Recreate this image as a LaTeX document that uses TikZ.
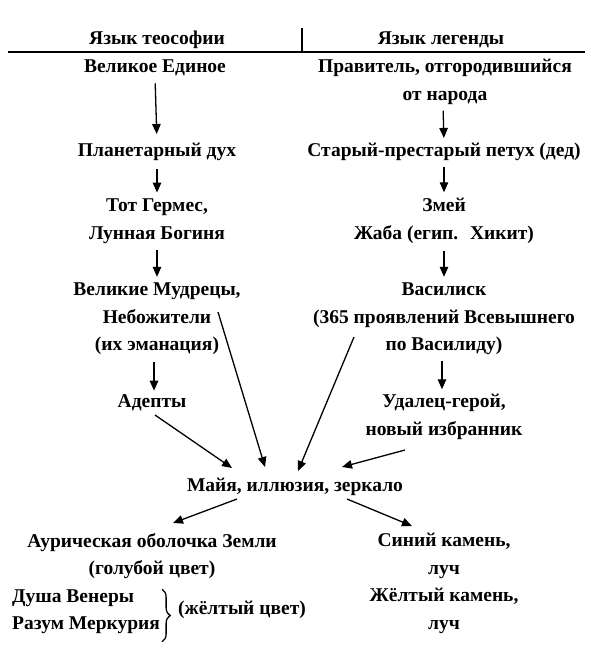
\documentclass[tikz,border=0pt]{standalone}
\usepackage{fontspec}
\setmainfont{Liberation Serif}
\usetikzlibrary{arrows.meta,decorations.pathreplacing}
\tikzset{
  txt/.style={inner sep=0pt, align=center, font=\fontsize{19.5}{27.5}\selectfont\bfseries},
  arr/.style={-{Triangle[length=10pt,width=8.5pt]}, line width=1.3pt},
}
\begin{document}
\begin{tikzpicture}[x=1pt,y=-1pt]
\useasboundingbox (0,0) rectangle (590,653);
% header
\node[txt] (h1) at (157,40) {Язык теософии};
\node[txt] (h2) at (441,40) {Язык легенды};
\draw[line width=2pt] (8,52) -- (585,52);
\draw[line width=1.2pt] (302,28) -- (302,52);
% left column
\node[txt] (L1) at (155,68) {Великое Единое};
\node[txt] (L2) at (157,152) {Планетарный дух};
\node[txt] (L3) at (157,221) {Тот Гермес,\\Лунная Богиня};
\node[txt] (L4) at (157,319) {Великие Мудрецы,\\Небожители\\(их эманация)};
\node[txt] (L5) at (152,403) {Адепты};
% right column
\node[txt] (R1) at (445,82) {Правитель, отгородившийся\\от народа};
\node[txt] (R2) at (444,152) {Старый-престарый петух (дед)};
\node[txt] (R3) at (444,221) {Змей\\Жаба (егип.\hspace{0.6em}Хикит)};
\node[txt] (R4) at (444,319) {Василиск\\(365 проявлений Всевышнего\\по Василиду)};
\node[txt] (R5) at (444,417) {Удалец-герой,\\новый избранник};
% center
\node[txt] (M) at (295,487) {Майя, иллюзия, зеркало};
% bottom
\node[txt] (B1) at (152,556) {Аурическая оболочка Земли\\(голубой цвет)};
\node[txt] (B2) at (444,556) {Синий камень,\\луч};
\node[txt, anchor=west] (D1) at (12,598) {Душа Венеры};
\node[txt, anchor=west] (D2) at (12,625) {Разум Меркурия};
\node[txt, anchor=west] (Y) at (178,610) {(жёлтый цвет)};
\node[txt] (B3) at (444,611) {Жёлтый камень,\\луч};
\draw[line width=1.3pt, decorate, decoration={brace, amplitude=8pt}]
  ([xshift=2pt]D2.east |- D1.north) -- ([shift={(2,8)}]D2.east |- D2.south);
% vertical arrows
\draw[arr, shorten <=7pt, shorten >=9pt] (L1.south) -- (L2.north);
\draw[arr, shorten <=8pt, shorten >=6pt] (L2.south) -- (L3.north);
\draw[arr, shorten <=7pt, shorten >=6pt] (L3.south) -- (L4.north);
\draw[arr, shorten <=7pt, shorten >=4pt] ([xshift=-3pt]L4.south) -- ([xshift=2pt]L5.north);
\draw[arr, shorten <=6pt, shorten >=5pt] ([xshift=-2pt]R1.south) -- (R2.north);
\draw[arr, shorten <=6pt, shorten >=6pt] (R2.south) -- (R3.north);
\draw[arr, shorten <=7pt, shorten >=6pt] (R3.south) -- (R4.north);
\draw[arr, shorten <=6pt, shorten >=5pt] ([xshift=-2pt]R4.south) -- ([xshift=-2pt]R5.north);
% diagonal arrows into M
\draw[arr] ([shift={(61,-7)}]L4.center) -- ([shift={(-30,-20)}]M.center);
\draw[arr] ([shift={(-90,18)}]R4.center) -- ([shift={(3,-16)}]M.center);
\draw[arr] ([shift={(3,12)}]L5.center) -- ([shift={(-63,-19)}]M.center);
\draw[arr] ([shift={(-39,33)}]R5.center) -- ([shift={(47,-20)}]M.center);
% arrows out of M
\draw[arr] ([shift={(-58,12)}]M.center) -- ([shift={(21,-33)}]B1.center);
\draw[arr] ([shift={(52,12)}]M.center) -- ([shift={(-32,-30)}]B2.center);
\end{tikzpicture}
\end{document}
